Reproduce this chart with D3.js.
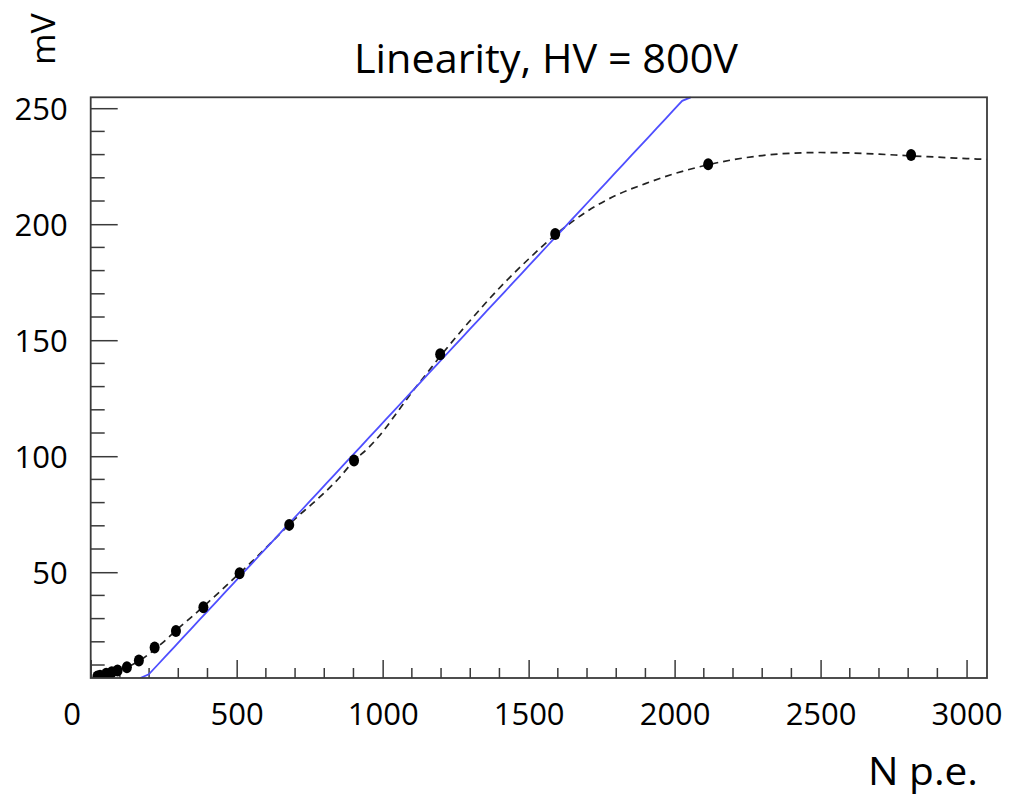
<!DOCTYPE html>
<html>
<head>
<meta charset="utf-8">
<script src="https://cdn.jsdelivr.net/npm/d3@7"></script>
<style>
  html, body { margin: 0; padding: 0; background: #fff; }
  svg { display: block; }
  text { font-family: "Open Sans", "Liberation Sans", sans-serif; fill: #000; }
</style>
</head>
<body>
<svg id="chart" width="1013" height="797"></svg>
<script>
// Measured points: number of photoelectrons vs. signal amplitude (mV)
const npe = [23, 32, 53, 72, 92, 124, 165, 219, 292, 386, 510, 680, 902, 1197, 1591, 2115, 2810];
const amplitude = [5.0, 5.4, 6.2, 6.9, 7.6, 9.0, 11.9, 17.5, 24.7, 34.9, 49.5, 70.4, 98.2, 143.9, 195.8, 225.8, 229.8];

// Smooth dashed curve through the measurements
const curveX = [20, 50, 75, 100, 125, 150, 175, 200, 250, 300, 350, 400, 450, 500, 550, 600, 650, 700,
  750, 800, 850, 900, 950, 1000, 1050, 1100, 1150, 1200, 1300, 1400, 1500, 1600, 1700, 1800, 1900,
  2000, 2100, 2200, 2300, 2400, 2500, 2600, 2700, 2800, 2900, 3000, 3070];
const curveY = [5.0, 6.2, 6.9, 7.9, 9.1, 10.6, 12.5, 14.8, 20.0, 25.8, 31.2, 36.8, 42.5, 48.4, 54.3, 60.5, 66.8, 73.0,
  78.5, 84.2, 90.5, 97.8, 103.5, 110.5, 119.0, 127.5, 135.5, 143.5, 158.5, 172.5, 185.0, 196.3, 205.5, 212.5, 217.5,
  221.8, 225.2, 227.8, 229.6, 230.6, 230.9, 230.7, 230.2, 229.5, 228.9, 228.3, 227.9];

// Linear fit (pol1) and its drawing range
const fitP0 = -20.95;
const fitP1 = 0.1353;
const fitRange = [170, 3070];
const fitNpx = 100;

// Axis ticks
const xMajorTicks = [0, 500, 1000, 1500, 2000, 2500, 3000];
const xTickLabels = ["0", "500", "1000", "1500", "2000", "2500", "3000"];
const yMajorTicks = [50, 100, 150, 200, 250];
const yTickLabels = ["50", "100", "150", "200", "250"];

const xDomain = [0, 3070];
const yDomain = [4.4, 254.7];

const svg = d3.select("#chart");
const frame = { left: 90.7, right: 987, top: 97.3, bottom: 678 };

const x = d3.scaleLinear().domain(xDomain).range([frame.left, frame.right]);
const y = d3.scaleLinear().domain(yDomain).range([frame.bottom, frame.top]);

const axisColor = "#3a3a3a";

// X axis: ticks point up into the frame
const xMinor = d3.range(100, 3070, 100).filter(v => v % 500 !== 0);
const xAxis = d3.axisBottom(x)
  .tickValues(xMajorTicks)
  .tickSize(-18)
  .tickFormat((d, i) => xTickLabels[i]);
const gx = svg.append("g").attr("transform", `translate(0,${frame.bottom})`).call(xAxis);
gx.select(".domain").remove();
gx.selectAll(".tick line").attr("stroke", axisColor).attr("stroke-width", 1.5);
gx.selectAll(".tick text")
  .attr("font-size", 31)
  .attr("y", 47)
  .attr("dy", 0)
  .attr("fill", "#000")
  .attr("dx", (d, i) => i === 0 ? -19 : 0);
svg.append("g").selectAll("line").data(xMinor).join("line")
  .attr("x1", d => x(d)).attr("x2", d => x(d))
  .attr("y1", frame.bottom).attr("y2", frame.bottom - 10)
  .attr("stroke", axisColor).attr("stroke-width", 1.5);

// Y axis: ticks point right into the frame
const yMinor = d3.range(10, 255, 10).filter(v => v % 50 !== 0);
const yAxis = d3.axisLeft(y)
  .tickValues(yMajorTicks)
  .tickSize(-27)
  .tickFormat((d, i) => yTickLabels[i]);
const gy = svg.append("g").attr("transform", `translate(${frame.left},0)`).call(yAxis);
gy.select(".domain").remove();
gy.selectAll(".tick line").attr("stroke", axisColor).attr("stroke-width", 1.5);
gy.selectAll(".tick text")
  .attr("font-size", 31)
  .attr("x", -23)
  .attr("dy", "0.36em")
  .attr("fill", "#000");
svg.append("g").selectAll("line").data(yMinor).join("line")
  .attr("x1", frame.left).attr("x2", frame.left + 14)
  .attr("y1", d => y(d)).attr("y2", d => y(d))
  .attr("stroke", axisColor).attr("stroke-width", 1.5);

// Clip plot content to the frame
svg.append("defs").append("clipPath").attr("id", "plotClip")
  .append("rect")
  .attr("x", frame.left).attr("y", frame.top - 2)
  .attr("width", frame.right - frame.left).attr("height", frame.bottom - frame.top + 2);

const plot = svg.append("g").attr("clip-path", "url(#plotClip)");

// Dashed curve
const curveData = curveX.map((v, i) => [v, curveY[i]]);
plot.append("path")
  .datum(curveData)
  .attr("fill", "none")
  .attr("stroke", "#222")
  .attr("stroke-width", 1.7)
  .attr("stroke-dasharray", "7,5")
  .attr("d", d3.line().x(d => x(d[0])).y(d => y(d[1])).curve(d3.curveMonotoneX));

// Linear fit, sampled the way the fit function is drawn, clipped to the y range
const step = (fitRange[1] - fitRange[0]) / fitNpx;
const fitPts = [];
for (let i = 0; i <= fitNpx; i++) {
  const xv = fitRange[0] + i * step;
  const yv = fitP0 + fitP1 * xv;
  fitPts.push([xv, Math.max(yDomain[0], Math.min(yDomain[1], yv))]);
  if (yv > yDomain[1]) break;
}
plot.append("path")
  .datum(fitPts)
  .attr("fill", "none")
  .attr("stroke", "#4f4fff")
  .attr("stroke-width", 1.8)
  .attr("d", d3.line().x(d => x(d[0])).y(d => y(d[1])));

// Markers
plot.append("g").selectAll("ellipse")
  .data(npe.map((v, i) => [v, amplitude[i]]))
  .join("ellipse")
  .attr("cx", d => x(d[0]))
  .attr("cy", d => y(d[1]))
  .attr("rx", 5)
  .attr("ry", 6)
  .attr("fill", "#000");

// Frame
svg.append("rect")
  .attr("x", frame.left).attr("y", frame.top)
  .attr("width", frame.right - frame.left).attr("height", frame.bottom - frame.top)
  .attr("fill", "none").attr("stroke", axisColor).attr("stroke-width", 1.8);

// Title and axis titles
svg.append("text")
  .attr("x", 546).attr("y", 73)
  .attr("text-anchor", "middle")
  .attr("font-size", 41)
  .attr("textLength", 384)
  .attr("lengthAdjust", "spacingAndGlyphs")
  .text("Linearity, HV = 800V");

svg.append("text")
  .attr("x", 978).attr("y", 785)
  .attr("text-anchor", "end")
  .attr("font-size", 39)
  .attr("textLength", 110)
  .attr("lengthAdjust", "spacingAndGlyphs")
  .text("N p.e.");

svg.append("text")
  .attr("transform", "translate(55,65) rotate(-90)")
  .attr("text-anchor", "start")
  .attr("font-size", 33)
  .attr("textLength", 52)
  .attr("lengthAdjust", "spacingAndGlyphs")
  .text("mV");
</script>
</body>
</html>
